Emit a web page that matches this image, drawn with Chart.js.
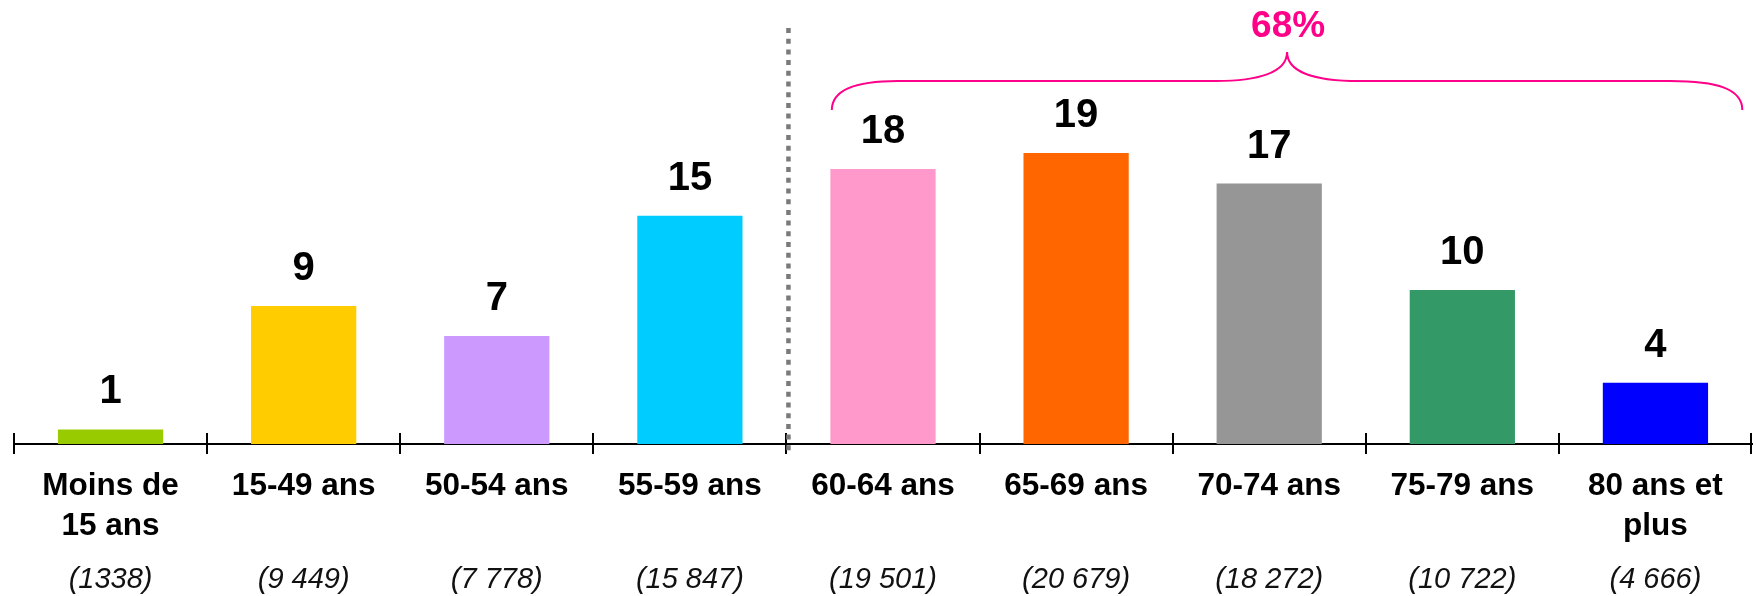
<!DOCTYPE html>
<html><head><meta charset="utf-8">
<script src="https://cdn.jsdelivr.net/npm/chart.js@4/dist/chart.umd.min.js"></script>
<style>html,body{margin:0;padding:0;background:#fff;overflow:hidden}canvas{display:block}</style>
</head><body>
<canvas id="c" width="1756" height="596"></canvas>
<script>
const categories = [['Moins de','15 ans'],'15-49 ans','50-54 ans','55-59 ans','60-64 ans','65-69 ans','70-74 ans','75-79 ans',['80 ans et','plus']];
const counts = ['(1338)','(9 449)','(7 778)','(15 847)','(19 501)','(20 679)','(18 272)','(10 722)','(4 666)'];
const values = [0.95, 9, 7.05, 14.9, 17.95, 19, 17, 10.05, 4];
const valueLabels = ['1','9','7','15','18','19','17','10','4'];
const barColors = ['#99CC00','#FFCC00','#CC99FF','#00CCFF','#FF99CC','#FF6600','#969696','#339966','#0000FF'];
const bracketText = '68%';
const bracketFrom = 4, bracketTo = 8;
const separatorAfter = 3;

const FONT = "'Liberation Sans', Arial, sans-serif";
const PINK = '#FF0088';

const deco = {
  id: 'deco',
  afterDatasetsDraw(chart) {
    const ctx = chart.ctx, xs = chart.scales.x, ca = chart.chartArea;
    const axisY = ca.bottom;
    ctx.save();
    // tick marks across the axis
    ctx.strokeStyle = '#000'; ctx.lineWidth = 2;
    for (let i = 0; i <= categories.length; i++) {
      const x = Math.round(xs.getPixelForValue(i - 0.5)) + (i === categories.length ? -1 : 0);
      ctx.beginPath(); ctx.moveTo(x, axisY - 11); ctx.lineTo(x, axisY + 10); ctx.stroke();
    }
    // value labels
    const meta = chart.getDatasetMeta(0);
    ctx.fillStyle = '#000';
    ctx.font = 'bold 40px ' + FONT;
    ctx.textAlign = 'center'; ctx.textBaseline = 'alphabetic';
    meta.data.forEach((bar, i) => { ctx.fillText(valueLabels[i], bar.x, bar.y - 26); });
    // dotted separator
    const sx = xs.getPixelForValue(separatorAfter + 0.5) + 2;
    ctx.strokeStyle = '#7a7a7a'; ctx.lineWidth = 4.5; ctx.setLineDash([5, 5.7]);
    ctx.beginPath(); ctx.moveTo(sx, 28); ctx.lineTo(sx, axisY + 9); ctx.stroke();
    ctx.setLineDash([]);
    // brace
    const cw = xs.getPixelForValue(1) - xs.getPixelForValue(0);
    const L = xs.getPixelForValue(bracketFrom) - 0.265 * cw;
    const R = xs.getPixelForValue(bracketTo) + 0.45 * cw;
    const M = (L + R) / 2;
    const yEnd = 110, yLine = 81, yTip = 52;
    ctx.strokeStyle = PINK; ctx.lineWidth = 2;
    ctx.beginPath();
    ctx.moveTo(L, yEnd);
    ctx.bezierCurveTo(L, yLine + 8, L + 25, yLine, L + 66, yLine);
    ctx.lineTo(M - 71, yLine);
    ctx.bezierCurveTo(M - 30, yLine, M, yLine - 8, M, yTip);
    ctx.bezierCurveTo(M, yLine - 8, M + 30, yLine, M + 72, yLine);
    ctx.lineTo(R - 72, yLine);
    ctx.bezierCurveTo(R - 25, yLine, R, yLine + 8, R, yEnd);
    ctx.stroke();
    ctx.fillStyle = PINK;
    ctx.font = 'bold 37px ' + FONT;
    ctx.textBaseline = 'alphabetic';
    ctx.fillText(bracketText, M + 1, 37);
    ctx.restore();
  }
};

new Chart(document.getElementById('c'), {
  type: 'bar',
  data: {
    labels: categories,
    datasets: [{ data: values, backgroundColor: barColors, borderWidth: 0, barPercentage: 0.545, categoryPercentage: 1 }]
  },
  options: {
    responsive: false, animation: false, devicePixelRatio: 1,
    layout: { padding: { top: 15, left: 14, right: 4, bottom: 0 }, autoPadding: false },
    plugins: { legend: { display: false }, tooltip: { enabled: false } },
    scales: {
      y: { display: false, min: 0, max: 28 },
      x: {
        offset: true,
        grid: { display: false, drawTicks: false },
        border: { display: true, color: '#000', width: 2 },
        ticks: { color: '#000', font: { family: FONT, size: 31.5, weight: 'bold', lineHeight: 40/31.5 }, padding: 22.5, maxRotation: 0, autoSkip: false },
        afterFit(s) { s.height = 98.5; }
      },
      x2: {
        type: 'category', labels: counts, position: 'bottom', offset: true,
        grid: { display: false, drawTicks: false },
        border: { display: false },
        ticks: { color: '#111', font: { family: FONT, size: 29, style: 'italic', lineHeight: 1 }, padding: 23, maxRotation: 0, autoSkip: false },
        afterFit(s) { s.height = 53.5; }
      }
    }
  },
  plugins: [deco]
});
</script>
</body></html>
